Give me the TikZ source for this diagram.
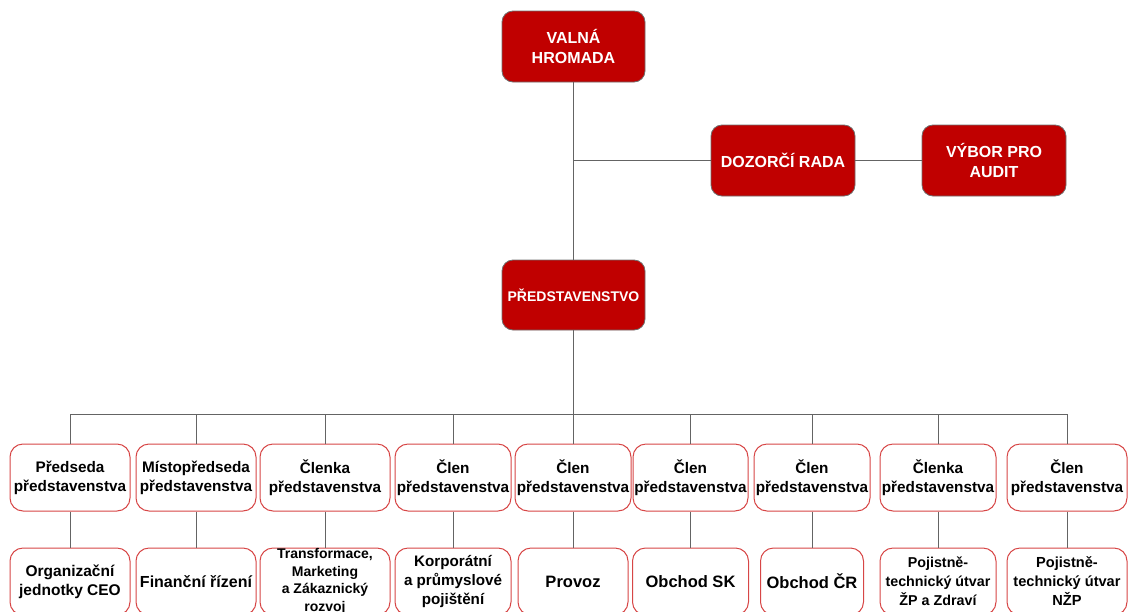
\documentclass[tikz,border=0pt]{standalone}
\usepackage{fontspec}
\setmainfont{Liberation Sans}
\definecolor{boardred}{RGB}{192,0,0}
\definecolor{boardedge}{RGB}{110,110,110}
\definecolor{cardedge}{RGB}{215,70,70}
\definecolor{wire}{RGB}{100,100,100}
\begin{document}
\begin{tikzpicture}[x=1pt,y=-1pt,
  topbox/.style={draw=boardedge,line width=0.8pt,fill=boardred,text=white,rounded corners=11pt,
    inner sep=0pt,align=center,font=\bfseries\fontsize{16}{20}\selectfont},
  card/.style={draw=cardedge,line width=1pt,fill=white,text=black,rounded corners=13pt,
    inner sep=0pt,align=center,minimum height=67pt,font=\bfseries\fontsize{15.3}{19}\selectfont},
  link/.style={draw=wire,line width=0.9pt}]
\useasboundingbox (0,0) rectangle (1128,611);
\clip (0,0) rectangle (1128,611);

\node[topbox,minimum width=143pt,minimum height=71pt] (vh) at (573.5,46.5) {VALNÁ\\HROMADA};
\node[topbox,minimum width=144pt,minimum height=71pt] (dr) at (783,160.5) {DOZORČÍ RADA};
\node[topbox,minimum width=144pt,minimum height=71pt] (va) at (994,160.5) {VÝBOR PRO\\AUDIT};
\node[topbox,minimum width=143pt,minimum height=70pt,font=\bfseries\fontsize{14}{17}\selectfont] (ps) at (573.5,295) {PŘEDSTAVENSTVO};

\coordinate (j1) at (573.5,160.5);
\coordinate (busL) at (70,414);
\coordinate (busR) at (1067,414);
\coordinate (busM) at (573.5,414);

\node[card,minimum width=120pt] (p1) at (70,477.5) {Předseda\\představenstva};
\node[card,minimum width=120pt] (p2) at (196,477.5) {Místopředseda\\představenstva};
\node[card,minimum width=130pt] (p3) at (325,477.5) {Členka\\představenstva};
\node[card,minimum width=116pt] (p4) at (453,477.5) {Člen\\představenstva};
\node[card,minimum width=116pt] (p5) at (573,477.5) {Člen\\představenstva};
\node[card,minimum width=115pt] (p6) at (690.5,477.5) {Člen\\představenstva};
\node[card,minimum width=116pt] (p7) at (812,477.5) {Člen\\představenstva};
\node[card,minimum width=116pt] (p8) at (938,477.5) {Členka\\představenstva};
\node[card,minimum width=120pt] (p9) at (1067,477.5) {Člen\\představenstva};

\node[card,minimum width=120pt,font=\bfseries\fontsize{15.5}{19}\selectfont] (u1) at (70,581.5) {Organizační\\jednotky CEO};
\node[card,minimum width=120pt,font=\bfseries\fontsize{16}{19}\selectfont] (u2) at (196,581.5) {Finanční řízení};
\node[card,minimum width=130pt,font=\bfseries\fontsize{14}{17.5}\selectfont] (u3) at (325,581.5) {Transformace,\\Marketing\\a Zákaznický\\rozvoj};
\node[card,minimum width=116pt,font=\bfseries\fontsize{15.2}{19}\selectfont] (u4) at (453,581.5) {Korporátní\\a průmyslové\\pojištění};
\node[card,minimum width=110pt,font=\bfseries\fontsize{16.5}{19}\selectfont] (u5) at (573,581.5) {Provoz};
\node[card,minimum width=116pt,font=\bfseries\fontsize{16.5}{19}\selectfont] (u6) at (690.5,581.5) {Obchod SK};
\node[card,minimum width=103pt,font=\bfseries\fontsize{16.5}{19}\selectfont] (u7) at (812,581.5) {Obchod ČR};
\node[card,minimum width=116pt,font=\bfseries\fontsize{14.3}{19}\selectfont] (u8) at (938,581.5) {Pojistně-\\technický útvar\\ŽP a Zdraví};
\node[card,minimum width=120pt,font=\bfseries\fontsize{14.6}{19}\selectfont] (u9) at (1067,581.5) {Pojistně-\\technický útvar\\NŽP};

\path[link] (vh.south) -- (ps.north);
\path[link] (j1) -- (dr.west);
\path[link] (dr.east) -- (va.west);
\path[link] (ps.south) -- (busM);
\path[link] (busL) -- (busR);
\foreach \i in {1,...,9} {
  \path[link] (p\i.north |- busL) -- (p\i.north);
  \path[link] (p\i.south) -- (u\i.north);
}
\end{tikzpicture}
\end{document}
